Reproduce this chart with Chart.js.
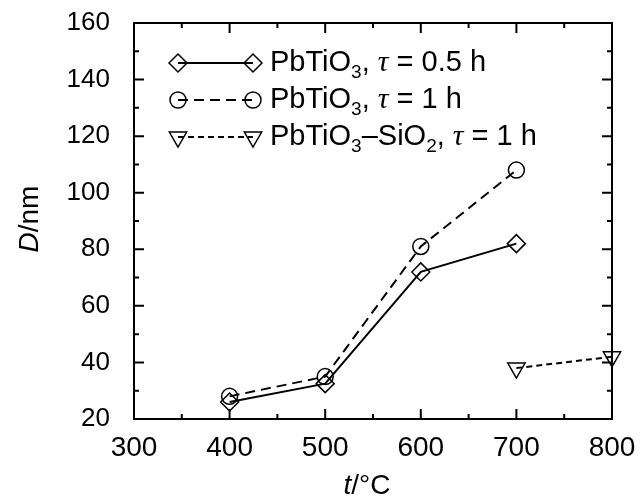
<!DOCTYPE html>
<html>
<head>
<meta charset="utf-8">
<script src="https://cdn.jsdelivr.net/npm/chart.js@4/dist/chart.umd.min.js"></script>
<style>
  html, body { margin: 0; padding: 0; background: #fff; }
  #wrap { width: 640px; height: 499px; }
</style>
</head>
<body>
<div id="wrap"><canvas id="myChart" width="640" height="499"></canvas></div>
<script>
// values
const temps = [400, 500, 600, 700];
const dHalfHour = [26, 32.5, 72, 82];
const dOneHour = [28, 35, 81, 108];
const silicaTemps = [700, 800];
const dSilica = [38, 42];

const xTicks = [300, 400, 500, 600, 700, 800];
const yTicks = [20, 40, 60, 80, 100, 120, 140, 160];

const FONT = "'Liberation Sans', Arial, sans-serif";
const SERIF = "'Liberation Serif', 'Times New Roman', serif";

function pairs(xs, ys) {
  return xs.map((x, i) => ({ x, y: ys[i] }));
}

// rich text pieces: [text, kind] kind = 'n' normal, 's' subscript, 'g' greek italic
const legendRows = [
  { dash: [], style: 'rectRot', rot: 0, radius: 9,
    parts: [['PbTiO', 'n'], ['3', 's'], [', ', 'n'], ['\u03C4', 'g'], [' = 0.5 h', 'n']] },
  { dash: [10, 6], style: 'circle', rot: 0, radius: 8,
    parts: [['PbTiO', 'n'], ['3', 's'], [', ', 'n'], ['\u03C4', 'g'], [' = 1 h', 'n']] },
  { dash: [6, 4], style: 'triangle', rot: 180, radius: 10,
    parts: [['PbTiO', 'n'], ['3', 's'], ['\u2013SiO', 'n'], ['2', 's'], [', ', 'n'], ['\u03C4', 'g'], [' = 1 h', 'n']] }
];

function fontFor(kind) {
  if (kind === 's') return `19px ${FONT}`;
  if (kind === 'g') return `italic 30px ${SERIF}`;
  return `29px ${FONT}`;
}

function drawRich(ctx, parts, x, y) {
  ctx.textBaseline = 'middle';
  ctx.textAlign = 'left';
  for (const [txt, kind] of parts) {
    ctx.font = fontFor(kind);
    const dy = kind === 's' ? 10 : 0;
    ctx.fillText(txt, x, y + dy);
    x += ctx.measureText(txt).width;
  }
}

const framePlugin = {
  id: 'frame',
  beforeDatasetsDraw(chart) {
    const { ctx, chartArea: a, scales } = chart;
    const xs = scales.x, ys = scales.y;
    ctx.save();
    ctx.strokeStyle = '#000';
    ctx.lineWidth = 2;
    ctx.strokeRect(a.left, a.top, a.right - a.left, a.bottom - a.top);
    ctx.beginPath();
    for (let v = 300; v <= 800; v += 50) {
      const px = xs.getPixelForValue(v);
      const len = v % 100 === 0 ? 10 : 5;
      ctx.moveTo(px, a.bottom); ctx.lineTo(px, a.bottom - len);
      ctx.moveTo(px, a.top); ctx.lineTo(px, a.top + len);
    }
    for (let v = 20; v <= 160; v += 10) {
      const py = ys.getPixelForValue(v);
      const len = v % 20 === 0 ? 10 : 5;
      ctx.moveTo(a.left, py); ctx.lineTo(a.left + len, py);
      ctx.moveTo(a.right, py); ctx.lineTo(a.right - len, py);
    }
    ctx.stroke();
    ctx.restore();
  },
  afterDraw(chart) {
    const { ctx } = chart;
    ctx.save();
    ctx.fillStyle = '#000';
    ctx.strokeStyle = '#000';

    // legend
    const x0 = 178, x1 = 253, textX = 270;
    const rowY = [63, 100, 137];
    legendRows.forEach((row, i) => {
      const y = rowY[i];
      ctx.lineWidth = 2;
      ctx.setLineDash(row.dash);
      ctx.beginPath();
      ctx.moveTo(x0, y); ctx.lineTo(x1, y);
      ctx.stroke();
      ctx.setLineDash([]);
      const opts = { pointStyle: row.style, radius: row.radius, rotation: row.rot, borderWidth: 1.5 };
      ctx.fillStyle = 'rgba(255,255,255,0)';
      ctx.lineWidth = 1.5;
      Chart.helpers.drawPoint(ctx, opts, x0, y);
      Chart.helpers.drawPoint(ctx, opts, x1, y);
      ctx.fillStyle = '#000';
      drawRich(ctx, row.parts, textX, y);
    });

    // axis titles
    ctx.textBaseline = 'alphabetic';
    ctx.textAlign = 'left';
    let parts = [['t', `italic 28px ${FONT}`], ['/\u00B0C', `28px ${FONT}`]];
    let w = 0;
    parts.forEach(([t, f]) => { ctx.font = f; w += ctx.measureText(t).width; });
    let x = 367 - w / 2;
    parts.forEach(([t, f]) => { ctx.font = f; ctx.fillText(t, x, 494); x += ctx.measureText(t).width; });

    ctx.translate(38, 219);
    ctx.rotate(-Math.PI / 2);
    parts = [['D', `italic 28px ${FONT}`], ['/nm', `28px ${FONT}`]];
    w = 0;
    parts.forEach(([t, f]) => { ctx.font = f; w += ctx.measureText(t).width; });
    x = -w / 2;
    parts.forEach(([t, f]) => { ctx.font = f; ctx.fillText(t, x, 0); x += ctx.measureText(t).width; });
    ctx.restore();
  }
};

const ctx = document.getElementById('myChart').getContext('2d');

const data = {
  datasets: [
    {
      label: 'PbTiO3, tau = 0.5 h',
      data: pairs(temps, dHalfHour),
      borderColor: '#000',
      borderWidth: 2,
      pointStyle: 'rectRot',
      pointRadius: 9,
      pointBorderWidth: 1.5,
      pointBackgroundColor: 'rgba(255,255,255,0)',
      pointBorderColor: '#000',
      clip: false
    },
    {
      label: 'PbTiO3, tau = 1 h',
      data: pairs(temps, dOneHour),
      borderColor: '#000',
      borderWidth: 2,
      borderDash: [10, 6],
      pointStyle: 'circle',
      pointRadius: 8,
      pointBorderWidth: 1.5,
      pointBackgroundColor: 'rgba(255,255,255,0)',
      pointBorderColor: '#000',
      clip: false
    },
    {
      label: 'PbTiO3-SiO2, tau = 1 h',
      data: pairs(silicaTemps, dSilica),
      borderColor: '#000',
      borderWidth: 2,
      borderDash: [6, 4],
      pointStyle: 'triangle',
      pointRotation: 180,
      pointRadius: 10,
      pointBorderWidth: 1.5,
      pointBackgroundColor: 'rgba(255,255,255,0)',
      pointBorderColor: '#000',
      clip: false
    }
  ]
};

const config = {
  type: 'line',
  data,
  options: {
    responsive: false,
    animation: false,
    events: [],
    layout: { padding: { top: 23, right: 28, bottom: 0, left: 0 } },
    plugins: {
      legend: { display: false },
      tooltip: { enabled: false }
    },
    scales: {
      x: {
        type: 'linear',
        min: 300,
        max: 800,
        afterBuildTicks(scale) { scale.ticks = xTicks.map(v => ({ value: v })); },
        afterFit(scale) {
          scale.height = 80;
          scale.paddingLeft = 0;
          scale.paddingRight = 0;
        },
        grid: { display: false, drawTicks: false },
        border: { display: false },
        ticks: { color: '#000', font: { family: FONT, size: 28 }, padding: 12 }
      },
      y: {
        type: 'linear',
        min: 20,
        max: 160,
        afterBuildTicks(scale) { scale.ticks = yTicks.map(v => ({ value: v })); },
        afterFit(scale) {
          scale.width = 134;
          scale.paddingTop = 0;
          scale.paddingBottom = 0;
        },
        grid: { display: false, drawTicks: false },
        border: { display: false },
        ticks: { color: '#000', font: { family: FONT, size: 26 }, padding: 24 }
      }
    }
  },
  plugins: [framePlugin]
};

const myChart = new Chart(ctx, config);
</script>
</body>
</html>
